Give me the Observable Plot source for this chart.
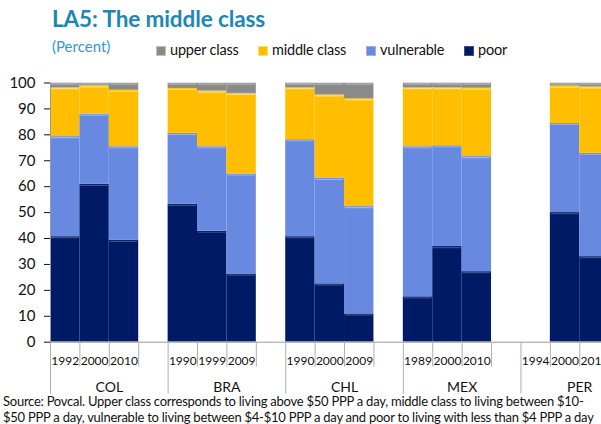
<!DOCTYPE html>
<html>
<head>
<meta charset="utf-8">
<script src="https://cdn.jsdelivr.net/npm/d3@7"></script>
<script src="https://cdn.jsdelivr.net/npm/@observablehq/plot@0.6"></script>
<style>
  html, body { margin: 0; padding: 0; background: #fff; overflow: hidden; }
  body { width: 601px; height: 424px; font-family: Lato, "Open Sans", sans-serif; color: #111; }
  #header { position: relative; height: 70px; }
  #title { position: absolute; left: 52px; top: 5px; font-size: 22.5px; font-weight: bold; color: #1C86B7; letter-spacing: -0.1px; }
  #subtitle { position: absolute; left: 52px; top: 37px; font-size: 15px; color: #3597CF; }
  .lg { position: absolute; top: 42px; font-size: 14.5px; line-height: 16px; white-space: nowrap; letter-spacing: -0.2px; }
  .sw { display: inline-block; width: 10px; height: 10px; margin-right: 4px; vertical-align: -1px; }
  #chart { height: 330px; }
  #caption { position: relative; margin-top: -7px; font-size: 13px; line-height: 16px; padding-left: 3px; white-space: nowrap; letter-spacing: -0.25px; }
  svg { overflow: hidden; }
</style>
</head>
<body>
<div id="header">
  <div id="title">LA5: The middle class</div>
  <div id="subtitle">(Percent)</div>
  <div id="legend"></div>
</div>
<div id="chart"></div>
<div id="caption">Source: Povcal. Upper class corresponds to living above $50 PPP a day, middle class to living between $10-<br>$50 PPP a day, vulnerable to living between $4-$10 PPP a day and poor to living with less than $4 PPP a day</div>
<script>
// ---- data (percent shares) ----
const countries = ["COL", "BRA", "CHL", "MEX", "PER"];
const years = [
  ["1992", "2000", "2010"],
  ["1990", "1999", "2009"],
  ["1990", "2000", "2009"],
  ["1989", "2000", "2010"],
  ["1994", "2000", "2010"]
];
const classes = ["poor", "vulnerable", "middle class", "upper class"];
const poor = [
  [40.7, 60.9, 39.3],
  [53.2, 42.8, 26.3],
  [40.7, 22.5, 10.9],
  [17.5, 36.9, 27.2],
  [null, 50.0, 33.0]
];
const vulnerable = [
  [38.6, 27.1, 36.1],
  [27.4, 32.6, 38.6],
  [37.4, 40.7, 41.4],
  [57.9, 38.9, 44.4],
  [null, 34.4, 39.9]
];
const middleClass = [
  [18.9, 10.9, 21.8],
  [17.3, 21.5, 31.1],
  [20.1, 32.2, 41.6],
  [22.8, 22.4, 26.4],
  [null, 14.4, 25.6]
];
const upperClass = [
  [1.8, 1.1, 2.8],
  [2.1, 3.1, 4.0],
  [1.8, 4.6, 6.1],
  [1.8, 1.8, 2.0],
  [null, 1.2, 1.5]
];
const yTicks = [0, 10, 20, 30, 40, 50, 60, 70, 80, 90, 100];

const colors = {
  "poor": "#001A66",
  "vulnerable": "#6889E0",
  "middle class": "#FFBF00",
  "upper class": "#8A8A8A"
};
const edge = {
  "poor": "#3A4E8C",
  "vulnerable": "#9DB2EC",
  "middle class": "#FFE066",
  "upper class": "#C0C0C0"
};

// ---- build tables ----
const series = [poor, vulnerable, middleClass, upperClass];
const slotsPerGroup = 4;
const segs = [];
const yearLabels = [];
const boundaries = [];
countries.forEach((c, g) => {
  years[g].forEach((yr, j) => {
    const slot = g * slotsPerGroup + j;
    yearLabels.push({slot, yr});
    let base = 0;
    classes.forEach((cls, k) => {
      const v = series[k][g][j];
      if (v == null) return;
      segs.push({country: c, year: yr, cls, x1: slot, x2: slot + 1, y1: base, y2: base + v});
      base += v;
    });
  });
  for (let j = 1; j <= 3; j++) boundaries.push({x: g * slotsPerGroup + j, long: false});
  boundaries.push({x: g * slotsPerGroup, long: true});
});
boundaries.push({x: countries.length * slotsPerGroup, long: true});
const groupLabels = countries.map((c, g) => ({c, x: g * slotsPerGroup + slotsPerGroup / 2}));

// ---- legend ----
const legendPos = [156, 258, 366, 464];
const legendOrder = ["upper class", "middle class", "vulnerable", "poor"];
const legend = document.getElementById("legend");
legendOrder.forEach((cls, i) => {
  const d = document.createElement("div");
  d.className = "lg";
  d.style.left = legendPos[i] + "px";
  d.innerHTML = `<span class="sw" style="background:${colors[cls]};box-shadow: inset 0 0 0 1px ${edge[cls]}"></span>${cls}`;
  legend.appendChild(d);
});

// ---- chart ----
const plot = Plot.plot({
  width: 601,
  height: 330,
  marginLeft: 50,
  marginRight: 0,
  marginTop: 12.5,
  marginBottom: 58.3,
  style: {fontFamily: "Lato, 'Open Sans', sans-serif", background: "white", overflow: "hidden"},
  x: {type: "linear", domain: [0, 18.74], axis: null},
  y: {domain: [0, 100], ticks: yTicks, tickSize: 6, tickPadding: 9, label: null, tickFormat: d => d},
  marks: [
    Plot.rect(segs, {x1: "x1", x2: "x2", y1: "y1", y2: "y2", fill: d => colors[d.cls], clip: true}),
    Plot.ruleY(segs, {y: "y2", x1: d => d.x1 + 0.03, x2: d => d.x2 - 0.03, stroke: d => edge[d.cls], strokeWidth: 1.2, dy: 1, clip: true}),
    Plot.ruleX([0], {y1: 0, y2: 100, stroke: "#9a9a9a"}),
    Plot.ruleY([0], {stroke: "#9a9a9a"}),
    Plot.ruleX(boundaries, {x: "x", y1: 0, y2: d => d.long ? -20.0 : -9.6, stroke: "#b0b0b0"}),
    Plot.text(yearLabels, {x: d => d.slot + 0.5, y: 0, dy: 19, text: "yr", fontSize: 12, fill: "#111", letterSpacing: -0.5}),
    Plot.text(groupLabels, {x: "x", y: 0, dy: 45, text: "c", fontSize: 14, fill: "#111"})
  ]
});
plot.querySelectorAll('g[aria-label="y-axis tick label"] text, g[aria-label="y-axis tick label"]').forEach(e => e.setAttribute("font-size", "15"));
document.getElementById("chart").appendChild(plot);
</script>
</body>
</html>
